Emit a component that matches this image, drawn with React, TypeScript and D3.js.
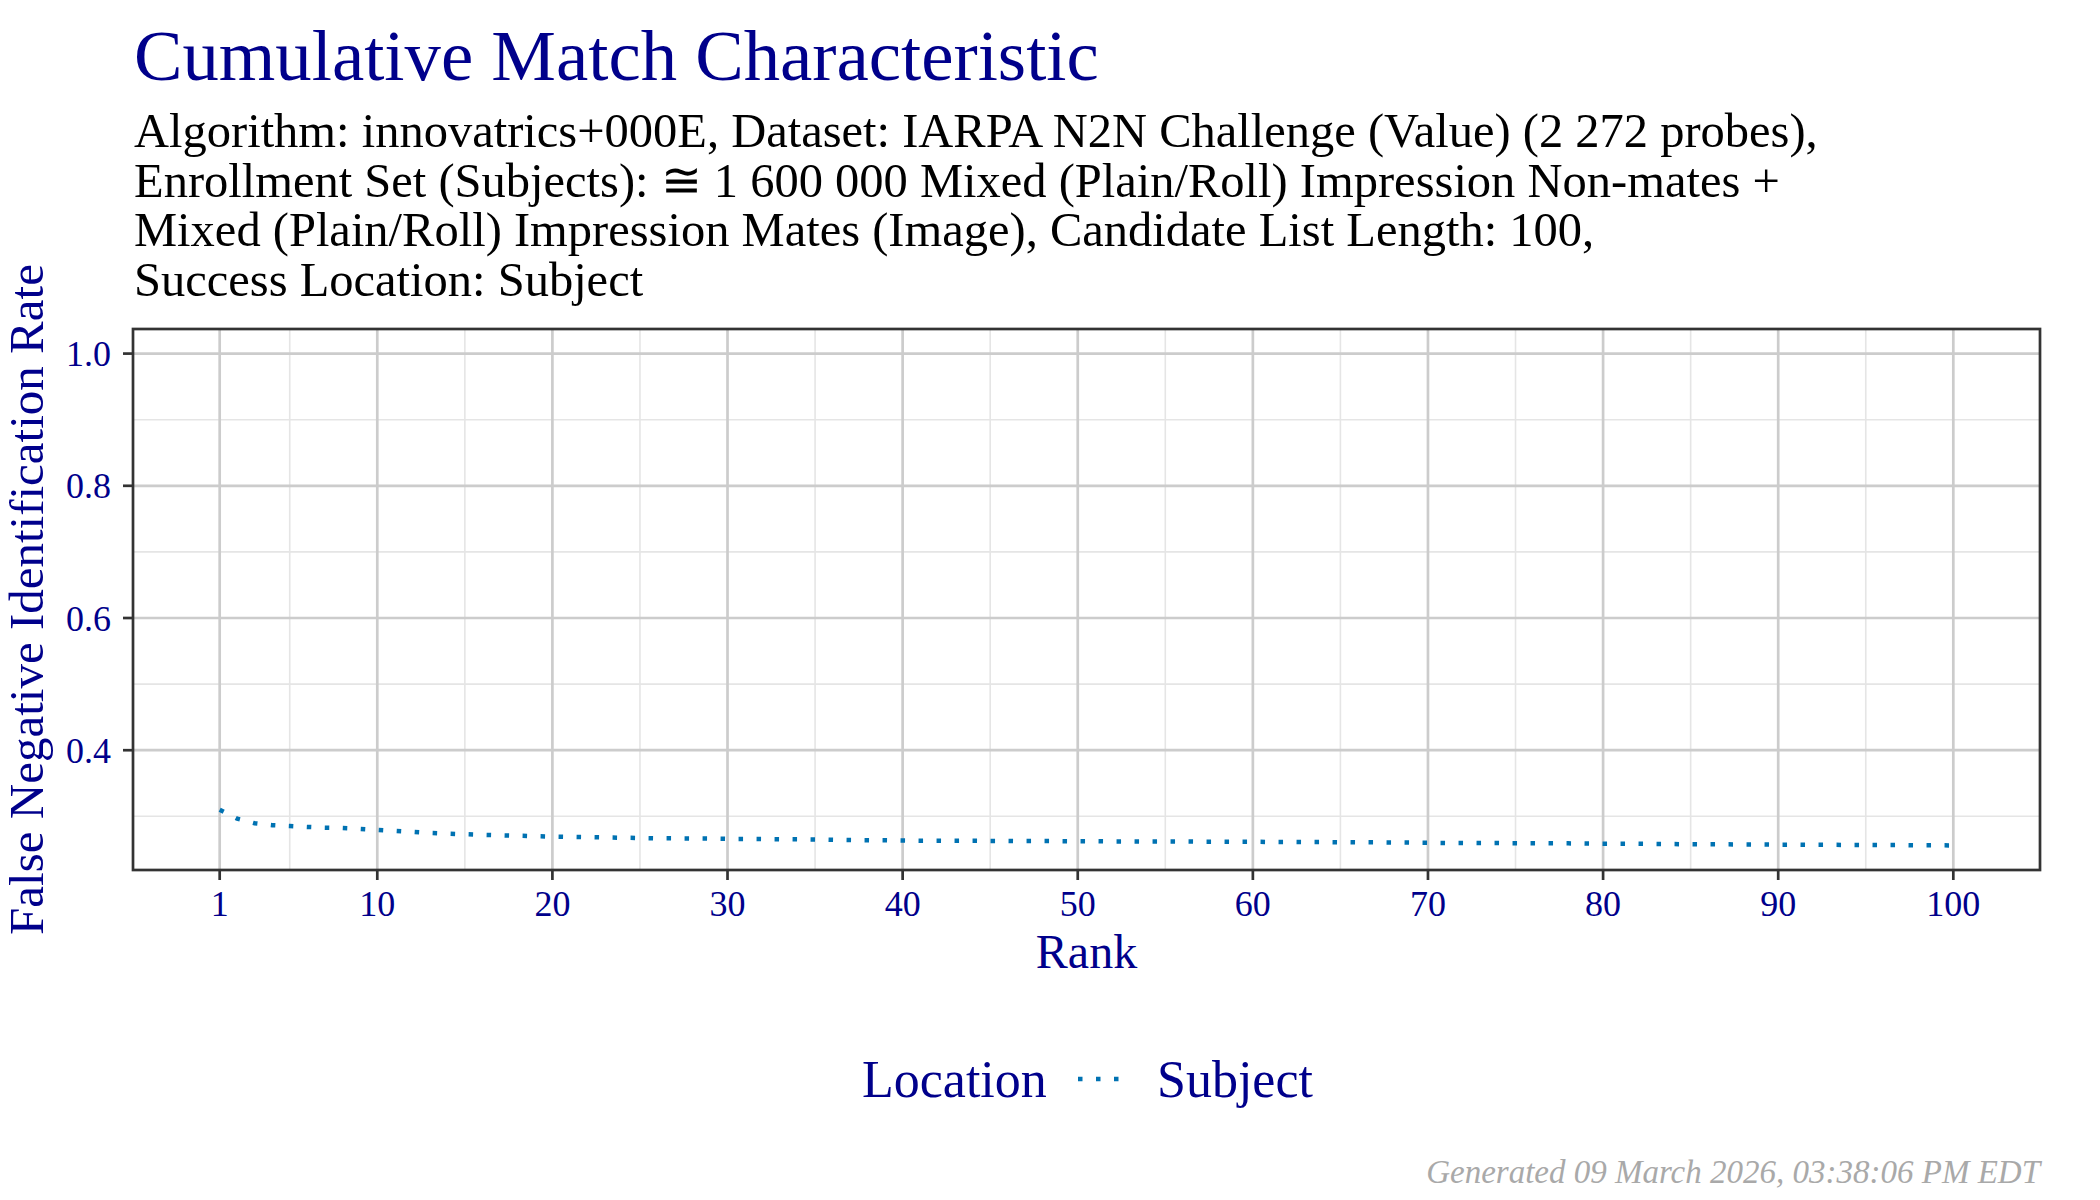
import React from 'react';
import * as d3 from 'd3';

// FNIR by rank (1..100)
const ranks: number[] = d3.range(1, 101);
const fnir: number[] = [
  0.3100, 0.2965, 0.2895, 0.2866, 0.2853, 0.2840, 0.2827, 0.2822, 0.2810, 0.2795,
  0.2780, 0.2765, 0.2748, 0.2738, 0.2729, 0.2720, 0.2713, 0.2707, 0.2700, 0.2694,
  0.2690, 0.2685, 0.2681, 0.2676, 0.2672, 0.2668, 0.2667, 0.2665, 0.2663, 0.2659,
  0.2658, 0.2656, 0.2654, 0.2652, 0.2650, 0.2645, 0.2641, 0.2639, 0.2637, 0.2634,
  0.2632, 0.2632, 0.2630, 0.2630, 0.2628, 0.2628, 0.2626, 0.2626, 0.2625, 0.2623,
  0.2623, 0.2621, 0.2621, 0.2619, 0.2619, 0.2619, 0.2617, 0.2617, 0.2615, 0.2615,
  0.2612, 0.2612, 0.2610, 0.2610, 0.2608, 0.2606, 0.2606, 0.2604, 0.2602, 0.2600,
  0.2597, 0.2597, 0.2595, 0.2595, 0.2593, 0.2593, 0.2591, 0.2591, 0.2588, 0.2586,
  0.2586, 0.2584, 0.2582, 0.2580, 0.2578, 0.2576, 0.2576, 0.2575, 0.2573, 0.2571,
  0.2571, 0.2569, 0.2569, 0.2567, 0.2567, 0.2565, 0.2565, 0.2562, 0.2562, 0.2560,
];

const xMajor: number[] = [1, 10, 20, 30, 40, 50, 60, 70, 80, 90, 100];
const xMinor: number[] = [5, 15, 25, 35, 45, 55, 65, 75, 85, 95];
const yMajor: number[] = [0.4, 0.6, 0.8, 1.0];
const yMinor: number[] = [0.3, 0.5, 0.7, 0.9];

const titleText = 'Cumulative Match Characteristic';
const subtitleLines: string[] = [
  'Algorithm: innovatrics+000E, Dataset: IARPA N2N Challenge (Value) (2 272 probes),',
  'Enrollment Set (Subjects): \u2245 1 600 000 Mixed (Plain/Roll) Impression Non-mates +',
  'Mixed (Plain/Roll) Impression Mates (Image), Candidate List Length: 100,',
  'Success Location: Subject',
];
const legendTitle = 'Location';
const seriesName = 'Subject';
const caption = 'Generated 09 March 2026, 03:38:06 PM EDT';

const W = 2100;
const H = 1200;
const panel = { left: 133, right: 2040, top: 329, bottom: 870 };
const FONT = '"Liberation Serif", "DejaVu Serif", serif';
const NAVY = '#00008B';
const LINE = '#0072B2';
const DOT = 4.5;

const App: React.FC = () => {
  // ggplot-style 5% expansion
  const xLo = d3.min(ranks)!;
  const xHi = d3.max(ranks)!;
  const xPad = (xHi - xLo) * 0.05;
  const x = d3.scaleLinear().domain([xLo - xPad, xHi + xPad]).range([panel.left, panel.right]);

  const yLo = d3.min(fnir)!;
  const yHi = 1.0;
  const yPad = (yHi - yLo) * 0.05;
  const y = d3.scaleLinear().domain([yLo - yPad, yHi + yPad]).range([panel.bottom, panel.top]);

  const line = d3.line<number>()
    .x((_, i) => x(ranks[i]))
    .y(d => y(d));

  const cx = (panel.left + panel.right) / 2;
  const cy = (panel.top + panel.bottom) / 2;

  return (
    <svg width={W} height={H} style={{ position: 'absolute', left: 0, top: 0, background: '#fff' }}
      fontFamily={FONT}>
      <rect x={0} y={0} width={W} height={H} fill="#fff" />

      {/* titles */}
      <text x={134} y={80} fontSize={72.7} fill={NAVY}>{titleText}</text>
      {subtitleLines.map((s, i) => (
        <text key={i} x={134} y={147 + i * 49.5} fontSize={48.5} fill="#000">{s}</text>
      ))}

      {/* grid */}
      <g>
        {yMinor.map(v => (
          <line key={`ym${v}`} x1={panel.left} x2={panel.right} y1={y(v)} y2={y(v)}
            stroke="#E5E5E5" strokeWidth={1.6} />
        ))}
        {xMinor.map(v => (
          <line key={`xm${v}`} y1={panel.top} y2={panel.bottom} x1={x(v)} x2={x(v)}
            stroke="#E5E5E5" strokeWidth={1.6} />
        ))}
        {yMajor.map(v => (
          <line key={`yM${v}`} x1={panel.left} x2={panel.right} y1={y(v)} y2={y(v)}
            stroke="#CCCCCC" strokeWidth={2.7} />
        ))}
        {xMajor.map(v => (
          <line key={`xM${v}`} y1={panel.top} y2={panel.bottom} x1={x(v)} x2={x(v)}
            stroke="#CCCCCC" strokeWidth={2.7} />
        ))}
      </g>

      {/* series */}
      <path d={line(fnir) || ''} fill="none" stroke={LINE} strokeWidth={DOT}
        strokeDasharray={`${DOT} ${DOT * 3}`} strokeLinecap="butt" />

      {/* panel border */}
      <rect x={panel.left} y={panel.top} width={panel.right - panel.left}
        height={panel.bottom - panel.top} fill="none" stroke="#333333" strokeWidth={2.7} />

      {/* x axis */}
      {xMajor.map(v => (
        <g key={`xt${v}`}>
          <line x1={x(v)} x2={x(v)} y1={panel.bottom} y2={panel.bottom + 10}
            stroke="#333333" strokeWidth={2.7} />
          <text x={x(v)} y={916} fontSize={36} fill={NAVY} textAnchor="middle">{v}</text>
        </g>
      ))}
      <text x={cx} y={968} fontSize={48} fill={NAVY} textAnchor="middle">Rank</text>

      {/* y axis */}
      {yMajor.map(v => (
        <g key={`yt${v}`}>
          <line x1={panel.left - 10} x2={panel.left} y1={y(v)} y2={y(v)}
            stroke="#333333" strokeWidth={2.7} />
          <text x={111} y={y(v) + 12.5} fontSize={36} fill={NAVY} textAnchor="end">
            {d3.format('.1f')(v)}
          </text>
        </g>
      ))}
      <text transform={`translate(43,${cy}) rotate(-90)`} fontSize={49} fill={NAVY}
        textAnchor="middle">False Negative Identification Rate</text>

      {/* legend */}
      <text x={862} y={1097} fontSize={52} fill={NAVY}>{legendTitle}</text>
      <line x1={1078} x2={1122} y1={1079} y2={1079} stroke={LINE} strokeWidth={DOT}
        strokeDasharray={`${DOT} ${DOT * 3}`} />
      <text x={1157} y={1097} fontSize={52} fill={NAVY}>{seriesName}</text>

      {/* caption */}
      <text x={panel.right} y={1183} fontSize={33} fontStyle="italic" fill="#A9A9A9"
        textAnchor="end">{caption}</text>
    </svg>
  );
};

export default App;
